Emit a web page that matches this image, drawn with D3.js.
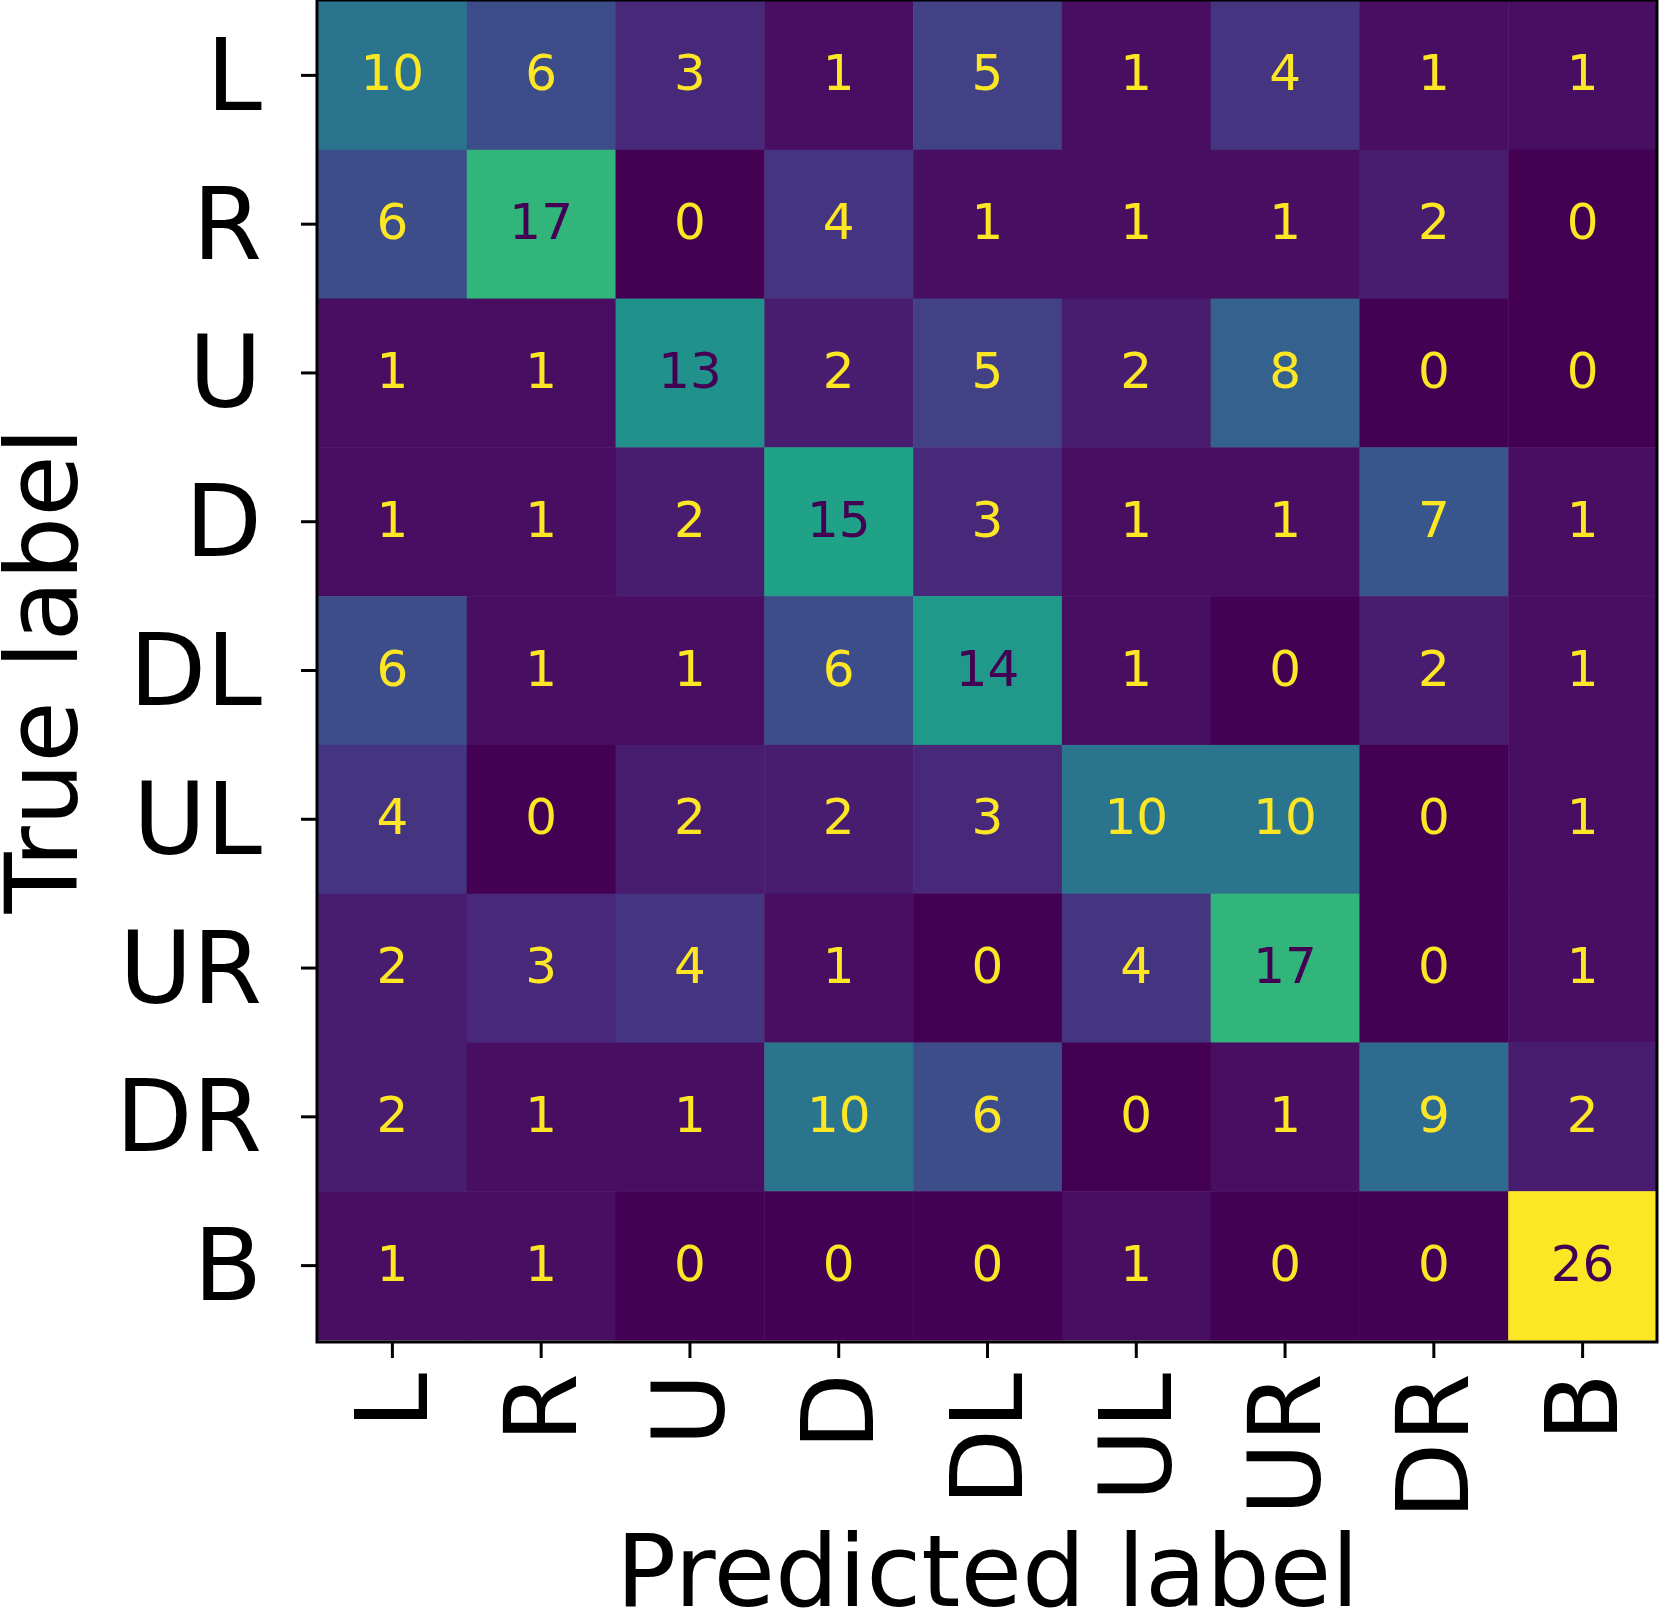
<!DOCTYPE html>
<html>
<head>
<meta charset="utf-8">
<script src="https://cdn.jsdelivr.net/npm/d3@7"></script>
<style>
  body { margin: 0; background: #fff; }
  svg { display: block; font-family: "DejaVu Sans", sans-serif; }
</style>
</head>
<body>
<div id="chart"></div>
<script>
// class labels, same order for both axes
var labels = ["L", "R", "U", "D", "DL", "UL", "UR", "DR", "B"];

// confusion matrix rows (true label) x columns (predicted label)
var rowL  = [10, 6, 3, 1, 5, 1, 4, 1, 1];
var rowR  = [6, 17, 0, 4, 1, 1, 1, 2, 0];
var rowU  = [1, 1, 13, 2, 5, 2, 8, 0, 0];
var rowD  = [1, 1, 2, 15, 3, 1, 1, 7, 1];
var rowDL = [6, 1, 1, 6, 14, 1, 0, 2, 1];
var rowUL = [4, 0, 2, 2, 3, 10, 10, 0, 1];
var rowUR = [2, 3, 4, 1, 0, 4, 17, 0, 1];
var rowDR = [2, 1, 1, 10, 6, 0, 1, 9, 2];
var rowB  = [1, 1, 0, 0, 0, 1, 0, 0, 26];
var matrix = [rowL, rowR, rowU, rowD, rowDL, rowUL, rowUR, rowDR, rowB];

var width = 1659, height = 1610;
var mLeft = 318, mTop = 1, mRight = 1657, mBottom = 1340;

var svg = d3.select("#chart").append("svg")
    .attr("width", width)
    .attr("height", height);

var x = d3.scaleBand().domain(labels).range([mLeft, mRight]);
var y = d3.scaleBand().domain(labels).range([mTop, mBottom]);

var flat = [];
matrix.forEach(function(row, i) {
    row.forEach(function(v, j) {
        flat.push({ t: labels[i], p: labels[j], v: v });
    });
});
var vmax = d3.max(flat, function(d) { return d.v; });
var vmin = d3.min(flat, function(d) { return d.v; });
var color = d3.scaleSequential(d3.interpolateViridis).domain([vmin, vmax]);
var thresh = (vmax + vmin) / 2;

// cells
svg.selectAll("rect.cell").data(flat).enter().append("rect")
    .attr("class", "cell")
    .attr("x", function(d) { return x(d.p); })
    .attr("y", function(d) { return y(d.t); })
    .attr("width", x.bandwidth() + 0.5)
    .attr("height", y.bandwidth() + 0.5)
    .attr("fill", function(d) { return color(d.v); });

// cell numbers
svg.selectAll("text.val").data(flat).enter().append("text")
    .attr("class", "val")
    .attr("x", function(d) { return x(d.p) + x.bandwidth() / 2; })
    .attr("y", function(d) { return y(d.t) + y.bandwidth() / 2 - 2; })
    .attr("text-anchor", "middle")
    .attr("dominant-baseline", "central")
    .attr("font-size", 50)
    .attr("fill", function(d) { return d.v < thresh ? color(vmax) : color(vmin); })
    .text(function(d) { return d.v; });

// frame
svg.append("rect")
    .attr("x", mLeft - 1).attr("y", mTop - 1)
    .attr("width", mRight - mLeft + 1).attr("height", mBottom - mTop + 3)
    .attr("fill", "none")
    .attr("stroke", "black")
    .attr("stroke-width", 3);

// x axis
var xAxis = svg.append("g")
    .attr("transform", "translate(0," + (mBottom + 2) + ")")
    .call(d3.axisBottom(x).tickSize(16).tickPadding(0));
xAxis.select(".domain").remove();
xAxis.selectAll(".tick line").attr("stroke", "black").attr("stroke-width", 3);
xAxis.selectAll(".tick text")
    .attr("font-size", 100)
    .attr("font-family", "DejaVu Sans")
    .attr("fill", "black")
    .attr("text-anchor", "end")
    .attr("dominant-baseline", "central")
    .attr("y", 0)
    .attr("dy", null)
    .attr("transform", "translate(0,31) rotate(-90)");

// y axis
var yAxis = svg.append("g")
    .attr("transform", "translate(" + (mLeft - 1) + ",0)")
    .call(d3.axisLeft(y).tickSize(16).tickPadding(0));
yAxis.select(".domain").remove();
yAxis.selectAll(".tick line").attr("stroke", "black").attr("stroke-width", 3);
yAxis.selectAll(".tick text")
    .attr("font-size", 100)
    .attr("font-family", "DejaVu Sans")
    .attr("fill", "black")
    .attr("text-anchor", "end")
    .attr("dominant-baseline", "central")
    .attr("x", -55)
    .attr("dy", null);

// axis titles
svg.append("text")
    .attr("x", (mLeft + mRight) / 2)
    .attr("y", 1606)
    .attr("text-anchor", "middle")
    .attr("font-size", 100)
    .text("Predicted label");

svg.append("text")
    .attr("transform", "translate(77," + ((mTop + mBottom) / 2) + ") rotate(-90)")
    .attr("text-anchor", "middle")
    .attr("font-size", 100)
    .text("True label");
</script>
</body>
</html>
